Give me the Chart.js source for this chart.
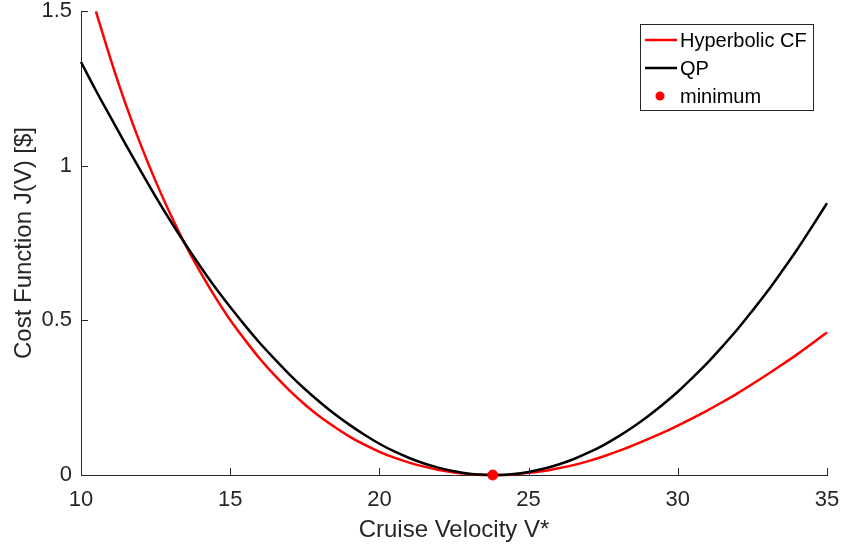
<!DOCTYPE html>
<html>
<head>
<meta charset="utf-8">
<title>Cost Function vs Cruise Velocity</title>
<script src="https://cdn.jsdelivr.net/npm/chart.js@4/dist/chart.umd.min.js"></script>
<style>
  html, body { margin: 0; padding: 0; background: #ffffff; }
  #wrap { width: 843px; height: 549px; }
</style>
</head>
<body>
<div id="wrap"><canvas id="cv" width="843" height="549"></canvas></div>
<script>
// Cruise velocities (x) and cost values (y) for each curve
const qpSpeeds = [10, 10.5, 11, 11.5, 12, 12.5, 13, 13.5, 14, 14.5, 15, 15.5, 16, 16.5, 17, 17.5, 18, 18.5, 19, 19.5,
  20, 20.5, 21, 21.5, 22, 22.5, 23, 23.5, 24, 24.5, 25, 25.5, 26, 26.5, 27, 27.5, 28, 28.5, 29, 29.5,
  30, 30.5, 31, 31.5, 32, 32.5, 33, 33.5, 34, 34.5, 35];
const qpCost = [1.335, 1.243, 1.155, 1.068, 0.983, 0.900, 0.821, 0.746, 0.674, 0.606, 0.543, 0.483, 0.426, 0.374, 0.324, 0.278, 0.236, 0.197, 0.162, 0.130,
  0.101, 0.076, 0.055, 0.037, 0.023, 0.012, 0.004, 0.001, 0.000, 0.003, 0.010, 0.020, 0.034, 0.051, 0.072, 0.096, 0.124, 0.155, 0.190, 0.228,
  0.269, 0.315, 0.363, 0.416, 0.471, 0.531, 0.593, 0.660, 0.729, 0.803, 0.879];

const hypSpeeds = [10.5, 11, 11.5, 12, 12.5, 13, 13.5, 14, 14.5, 15, 15.5, 16, 16.5, 17, 17.5, 18, 18.5, 19, 19.5,
  20, 20.5, 21, 21.5, 22, 22.5, 23, 23.5, 24, 24.5, 25, 25.5, 26, 26.5, 27, 27.5, 28, 28.5, 29, 29.5,
  30, 30.5, 31, 31.5, 32, 32.5, 33, 33.5, 34, 34.5, 35];
const hypCost = [1.499, 1.342, 1.198, 1.068, 0.950, 0.842, 0.744, 0.656, 0.575, 0.501, 0.436, 0.375, 0.321, 0.272, 0.228, 0.189, 0.155, 0.124, 0.098,
  0.075, 0.056, 0.040, 0.027, 0.016, 0.008, 0.003, 0.000, 0.000, 0.002, 0.007, 0.013, 0.022, 0.032, 0.045, 0.060, 0.077, 0.096, 0.116, 0.137,
  0.160, 0.184, 0.209, 0.236, 0.264, 0.294, 0.325, 0.357, 0.390, 0.425, 0.461];

const minSpeed = [23.8];
const minCost = [0];

const xTicks = [10, 15, 20, 25, 30, 35];
const yTicks = [0, 0.5, 1, 1.5];

const seriesNames = ['Hyperbolic CF', 'QP', 'minimum'];

const FONT = '"Liberation Sans", Arial, Helvetica, sans-serif';
const AXIS_COLOR = '#262626';

const toPoints = (xs, ys) => xs.map((x, i) => ({ x: x, y: ys[i] }));

// Inward tick marks along the left and bottom axes
const innerTicks = {
  id: 'innerTicks',
  afterDraw(chart) {
    const { ctx, chartArea, scales } = chart;
    const len = 7;
    ctx.save();
    ctx.strokeStyle = AXIS_COLOR;
    ctx.lineWidth = 1;
    ctx.beginPath();
    xTicks.forEach(v => {
      const px = Math.round(scales.x.getPixelForValue(v)) + 0.5;
      ctx.moveTo(px, chartArea.bottom);
      ctx.lineTo(px, chartArea.bottom - len);
    });
    yTicks.forEach(v => {
      const py = Math.round(scales.y.getPixelForValue(v)) + 0.5;
      ctx.moveTo(chartArea.left, py);
      ctx.lineTo(chartArea.left + len, py);
    });
    ctx.stroke();
    ctx.restore();
  }
};

// Boxed legend in the upper right of the plot area
const boxLegend = {
  id: 'boxLegend',
  afterDraw(chart) {
    const { ctx } = chart;
    const sets = chart.data.datasets;
    const x0 = 640.5, y0 = 24.5, w = 173, h = 86;
    ctx.save();
    ctx.fillStyle = '#ffffff';
    ctx.fillRect(x0, y0, w, h);
    ctx.strokeStyle = AXIS_COLOR;
    ctx.lineWidth = 1;
    ctx.strokeRect(x0, y0, w, h);
    ctx.font = '20px ' + FONT;
    ctx.textBaseline = 'middle';
    ctx.textAlign = 'left';
    const rows = [40, 68, 96];
    sets.forEach((ds, i) => {
      const y = rows[i];
      if (ds.showLine === false) {
        ctx.fillStyle = ds.pointBackgroundColor;
        ctx.beginPath();
        ctx.arc(660, y, 4.5, 0, Math.PI * 2);
        ctx.fill();
      } else {
        ctx.strokeStyle = ds.borderColor;
        ctx.lineWidth = ds.borderWidth;
        ctx.beginPath();
        ctx.moveTo(645, y);
        ctx.lineTo(677, y);
        ctx.stroke();
      }
      ctx.fillStyle = '#000000';
      ctx.fillText(ds.label, 680, y + 1);
    });
    ctx.restore();
  }
};

new Chart(document.getElementById('cv'), {
  type: 'line',
  data: {
    datasets: [
      {
        label: seriesNames[0],
        data: toPoints(hypSpeeds, hypCost),
        borderColor: '#ff0000',
        borderWidth: 2.5,
        pointRadius: 0,
        cubicInterpolationMode: 'monotone',
        fill: false,
        order: 3
      },
      {
        label: seriesNames[1],
        data: toPoints(qpSpeeds, qpCost),
        borderColor: '#000000',
        borderWidth: 2.5,
        pointRadius: 0,
        cubicInterpolationMode: 'monotone',
        fill: false,
        order: 2
      },
      {
        label: seriesNames[2],
        data: toPoints(minSpeed, minCost),
        showLine: false,
        pointRadius: 5,
        pointBackgroundColor: '#ff0000',
        pointBorderColor: '#ff0000',
        pointBorderWidth: 1,
        order: 1
      }
    ]
  },
  options: {
    responsive: false,
    animation: false,
    clip: false,
    layout: { padding: { left: 0, top: 11, right: 16, bottom: 0 } },
    plugins: {
      legend: { display: false },
      tooltip: { enabled: false }
    },
    scales: {
      x: {
        type: 'linear',
        min: 10,
        max: 35,
        afterFit(scale) {
          scale.height = 74;
          scale.paddingLeft = 0;
          scale.paddingRight = 0;
        },
        afterBuildTicks(scale) { scale.ticks = xTicks.map(v => ({ value: v })); },
        grid: { display: false, drawTicks: false },
        border: { display: true, color: AXIS_COLOR, width: 1 },
        ticks: {
          color: AXIS_COLOR,
          font: { family: FONT, size: 22 },
          padding: 12,
          maxRotation: 0,
          callback: v => String(v)
        },
        title: {
          display: true,
          text: 'Cruise Velocity V*',
          color: AXIS_COLOR,
          font: { family: FONT, size: 24 },
          padding: { top: 0, bottom: 4 }
        }
      },
      y: {
        type: 'linear',
        min: 0,
        max: 1.5,
        afterFit(scale) {
          scale.width = 81;
          scale.paddingTop = 0;
          scale.paddingBottom = 0;
        },
        afterBuildTicks(scale) { scale.ticks = yTicks.map(v => ({ value: v })); },
        grid: { display: false, drawTicks: false },
        border: { display: true, color: AXIS_COLOR, width: 1 },
        ticks: {
          color: AXIS_COLOR,
          font: { family: FONT, size: 22 },
          padding: 9,
          callback: v => String(v)
        },
        title: {
          display: true,
          text: 'Cost Function J(V) [$]',
          color: AXIS_COLOR,
          font: { family: FONT, size: 24 },
          padding: { top: 10, bottom: 0 }
        }
      }
    }
  },
  plugins: [innerTicks, boxLegend]
});
</script>
</body>
</html>
